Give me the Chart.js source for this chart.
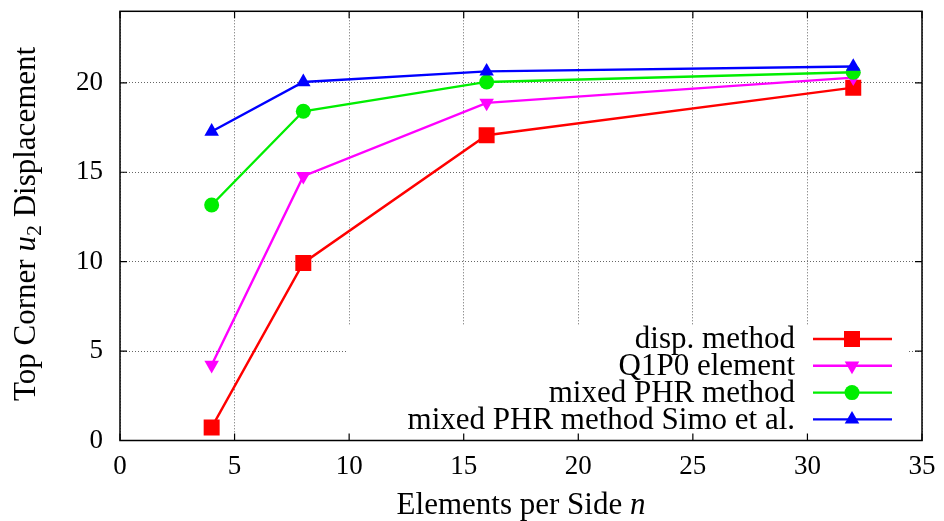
<!DOCTYPE html>
<html>
<head>
<meta charset="utf-8">
<title>Top corner displacement</title>
<script src="https://cdn.jsdelivr.net/npm/chart.js@4.4.1/dist/chart.umd.min.js"></script>
<style>
  html, body { margin: 0; padding: 0; background: #fff; }
  #wrap { position: relative; width: 944px; height: 521px; }
</style>
</head>
<body>
<div id="wrap"><canvas id="chart"></canvas></div>
<script>
// mesh refinement: elements per side
const elements = [4, 8, 16, 32];

// top corner u2 displacement for each formulation
const dispMethod = [0.73, 9.93, 17.07, 19.73];
const q1p0Element = [4.22, 14.78, 18.88, 20.29];
const mixedPhr = [13.17, 18.41, 20.05, 20.59];
const mixedPhrSimo = [17.28, 20.05, 20.64, 20.91];

const seriesNames = ['disp. method', 'Q1P0 element', 'mixed PHR method', 'mixed PHR method Simo et al.'];

const xTicks = [0, 5, 10, 15, 20, 25, 30, 35];
const yTicks = [0, 5, 10, 15, 20];

const FONT = 'Liberation Serif';
const colors = ['#ff0000', '#ff00ff', '#00ee00', '#0000ff'];
const markers = [
  { style: 'rect', radius: 11.3, rotation: 0 },
  { style: 'triangle', radius: 8.4, rotation: 180 },
  { style: 'circle', radius: 7.5, rotation: 0 },
  { style: 'triangle', radius: 8.4, rotation: 0 },
];
const LINE_W = 2.4;

Chart.defaults.font.family = FONT;
Chart.defaults.color = '#000';

function series(values, i) {
  return {
    label: seriesNames[i],
    data: elements.map((n, k) => ({ x: n, y: values[k] })),
    borderColor: colors[i],
    backgroundColor: colors[i],
    borderWidth: LINE_W,
    pointStyle: markers[i].style,
    pointRadius: markers[i].radius,
    pointRotation: markers[i].rotation,
    pointBorderWidth: 0,
    pointHoverRadius: markers[i].radius,
    tension: 0,
    order: 4 - i,
  };
}

function marker(ctx, i, x, y) {
  const m = markers[i];
  ctx.fillStyle = colors[i];
  ctx.beginPath();
  if (m.style === 'rect') {
    const s = m.radius * Math.SQRT1_2;
    ctx.rect(x - s, y - s, 2 * s, 2 * s);
  } else if (m.style === 'circle') {
    ctx.arc(x, y, m.radius, 0, Math.PI * 2);
  } else {
    let rad = m.rotation * Math.PI / 180;
    for (let k = 0; k < 3; k++) {
      const px = x + Math.sin(rad) * m.radius;
      const py = y - Math.cos(rad) * m.radius;
      k ? ctx.lineTo(px, py) : ctx.moveTo(px, py);
      rad += 2 * Math.PI / 3;
    }
    ctx.closePath();
  }
  ctx.fill();
}

// draw a run of differently styled text pieces centred on x
function richText(ctx, parts, x, y) {
  let total = 0;
  parts.forEach((p) => { ctx.font = p.font; total += ctx.measureText(p.text).width; });
  let cx = x - total / 2;
  parts.forEach((p) => {
    ctx.font = p.font;
    ctx.fillText(p.text, cx, y + (p.dy || 0));
    cx += ctx.measureText(p.text).width;
  });
}

const gnuplotFrame = {
  id: 'gnuplotFrame',
  beforeDatasetsDraw(chart) {
    const { ctx, chartArea: a, scales: { x, y } } = chart;
    ctx.save();
    // key area is opaque, hiding the grid behind it
    ctx.fillStyle = '#fff';
    ctx.fillRect(a.right - 576, a.bottom - 115, 562, 115);

    ctx.strokeStyle = '#000';
    ctx.lineWidth = 1.5;
    ctx.strokeRect(a.left, a.top, a.right - a.left, a.bottom - a.top);

    ctx.lineWidth = 1.2;
    ctx.beginPath();
    xTicks.forEach((v) => {
      const px = x.getPixelForValue(v);
      ctx.moveTo(px, a.bottom); ctx.lineTo(px, a.bottom - 7);
      ctx.moveTo(px, a.top); ctx.lineTo(px, a.top + 7);
    });
    yTicks.forEach((v) => {
      const py = y.getPixelForValue(v);
      ctx.moveTo(a.left, py); ctx.lineTo(a.left + 7, py);
      ctx.moveTo(a.right, py); ctx.lineTo(a.right - 7, py);
    });
    ctx.stroke();
    ctx.restore();
  },
  afterDatasetsDraw(chart) {
    const { ctx, chartArea: a } = chart;
    ctx.save();
    ctx.font = `31px ${FONT}`;
    ctx.textAlign = 'right';
    ctx.textBaseline = 'middle';
    seriesNames.forEach((name, i) => {
      const ry = a.bottom - 101.5 + i * 26.8;
      ctx.fillStyle = '#000';
      ctx.fillText(name, a.right - 127, ry + 1);
      ctx.strokeStyle = colors[i];
      ctx.lineWidth = LINE_W;
      ctx.beginPath();
      ctx.moveTo(a.right - 109, ry);
      ctx.lineTo(a.right - 30, ry);
      ctx.stroke();
      marker(ctx, i, a.right - 70, ry);
    });
    ctx.restore();
  },
  afterDraw(chart) {
    const { ctx, chartArea: a } = chart;
    ctx.save();
    ctx.fillStyle = '#000';
    ctx.textAlign = 'left';
    ctx.textBaseline = 'alphabetic';
    richText(ctx, [
      { text: 'Elements per Side ', font: `31px ${FONT}` },
      { text: 'n', font: `italic 31px ${FONT}` },
    ], (a.left + a.right) / 2, 514);

    ctx.translate(35, (a.top + a.bottom) / 2 - 2);
    ctx.rotate(-Math.PI / 2);
    richText(ctx, [
      { text: 'Top Corner ', font: `31px ${FONT}` },
      { text: 'u', font: `italic 31px ${FONT}` },
      { text: '2', font: `22px ${FONT}`, dy: 6 },
      { text: ' Displacement', font: `31px ${FONT}` },
    ], 0, 0);
    ctx.restore();
  },
};

new Chart(document.getElementById('chart'), {
  type: 'line',
  data: {
    datasets: [
      series(dispMethod, 0),
      series(q1p0Element, 1),
      series(mixedPhr, 2),
      series(mixedPhrSimo, 3),
    ],
  },
  options: {
    responsive: true,
    maintainAspectRatio: false,
    animation: false,
    events: [],
    layout: { padding: { top: 6.5, right: 22, left: 0, bottom: 0 } },
    plugins: { legend: { display: false }, tooltip: { enabled: false } },
    scales: {
      x: {
        type: 'linear',
        min: 0,
        max: 35,
        afterBuildTicks: (s) => { s.ticks = xTicks.map((v) => ({ value: v })); },
        afterFit: (s) => { s.height = 80.5; s.paddingLeft = 0; s.paddingRight = 0; },
        ticks: { font: { size: 27 }, padding: 10, maxRotation: 0 },
        grid: { color: '#666', lineWidth: 1, drawTicks: false },
        border: { display: false, dash: [1, 2] },
      },
      y: {
        type: 'linear',
        min: 0,
        max: 24,
        afterBuildTicks: (s) => { s.ticks = yTicks.map((v) => ({ value: v })); },
        afterFit: (s) => { s.width = 120; s.paddingTop = 0; s.paddingBottom = 0; },
        ticks: { font: { size: 27 }, padding: 17 },
        grid: { color: '#666', lineWidth: 1, drawTicks: false },
        border: { display: false, dash: [1, 2] },
      },
    },
  },
  plugins: [gnuplotFrame],
});
</script>
</body>
</html>
